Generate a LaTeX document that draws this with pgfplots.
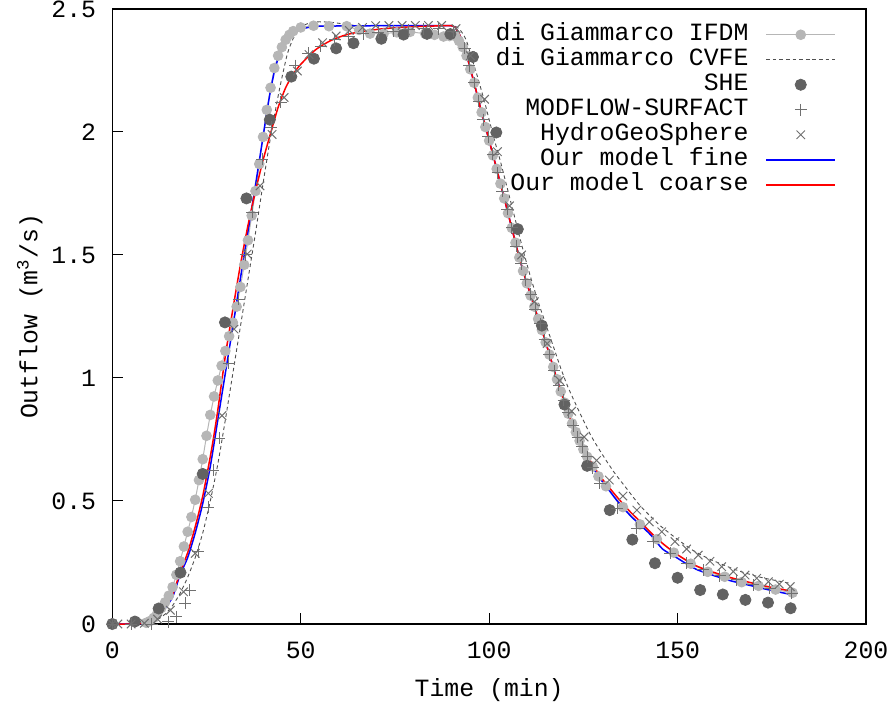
\documentclass[border=0pt]{standalone}
\usepackage{fontspec}
\setmainfont{Liberation Mono}
\usepackage{pgfplots}
\pgfplotsset{compat=1.18}
\definecolor{ifdm}{RGB}{182,182,182}
\definecolor{cvfe}{RGB}{80,80,80}
\definecolor{she}{RGB}{98,98,98}
\definecolor{mkgray}{RGB}{112,112,112}
\definecolor{fineblue}{RGB}{0,0,255}
\definecolor{coarsered}{RGB}{255,0,0}
\newcommand{\chartfont}{\fontsize{12.4bp}{14bp}\selectfont}
\begin{document}
\chartfont
\begin{tikzpicture}
\path[use as bounding box] (-56.15bp,-41bp) rectangle (388.35bp,312bp);
\begin{axis}[
  scale only axis,
  width=376.85bp, height=307.5bp,
  xmin=0, xmax=200, ymin=0, ymax=2.5,
  xtick={0,50,100,150,200},
  ytick={0,0.5,1,1.5,2,2.5},
  tick pos=left, tick align=inside,
  major tick length=5.5bp,
  tick style={black, line width=0.5bp},
  axis line style={black, line width=0.6bp},
  /pgf/number format/assume math mode=true,
  tick label style={font=\chartfont},
  xticklabel style={anchor=base, inner sep=0pt, yshift=-17bp},
  yticklabel style={anchor=east, inner sep=0pt, xshift=-7.9bp},
  xlabel={Time (min)},
  ylabel={Outflow (m\textsuperscript{3}/s)},
  label style={font=\chartfont},
  xlabel style={at={(axis description cs:0.5,-0.1171)}, anchor=base, inner sep=0pt},
  ylabel style={at={(axis description cs:-0.0995,0.5)}, anchor=base, rotate=0, inner sep=0pt},
  clip=false,
  legend cell align=right,
  legend plot pos=right,
  legend image code/.code={\draw[mark repeat=2,mark phase=2,#1] plot coordinates {(0bp,0bp) (17.25bp,0bp) (34.5bp,0bp)};},
  legend style={draw=none, fill=none, font=\chartfont,
    at={(axis description cs:0.9602,0.9760)}, anchor=north east,
    inner sep=0pt, outer sep=0pt, row sep=1.5bp, column sep=8.5bp,
    nodes={inner sep=0pt, text height=8.5bp, text depth=2.5bp}},
]
% di Giammarco IFDM
\addplot[color=ifdm, line width=0.5bp, mark=*, mark size=2.4bp, mark options={fill=ifdm, draw=ifdm}] coordinates {
(0,0)(9,0.005)(10,0.012)(11,0.025)(12,0.045)(13,0.065)(14,0.088)(15,0.115)(16,0.15)(17,0.2)(18,0.255)(19,0.315)(20,0.375)(21,0.435)(22,0.505)(23,0.585)(24,0.67)(25,0.765)(26,0.85)(27,0.925)(28,0.99)(29,1.05)(30,1.11)(31,1.17)(32,1.225)(33,1.29)(34,1.37)(35,1.46)(36,1.56)(37,1.66)(38,1.76)(39,1.87)(40,1.98)(41,2.09)(42,2.18)(43,2.26)(44,2.31)(45,2.345)(46,2.375)(47,2.395)(48,2.41)(50,2.425)(53.4,2.432)(57.5,2.43)(62.2,2.43)(65.5,2.415)(68.4,2.40)(72,2.40)(75.5,2.405)(79,2.407)(83,2.40)(85.5,2.395)(87.9,2.388)(89.5,2.39)(91,2.39)(92,2.37)(93,2.345)(94,2.31)(95,2.255)(96,2.20)(97,2.14)(98,2.08)(99,2.02)(100,1.965)(101,1.905)(102,1.85)(103,1.79)(104,1.73)(105,1.67)(106,1.61)(107,1.55)(108,1.49)(109,1.435)(110,1.385)(111,1.335)(112,1.29)(113,1.24)(114,1.195)(115,1.145)(116,1.095)(117,1.045)(118,0.995)(119,0.945)(120,0.90)(121,0.855)(122,0.815)(123,0.78)(124,0.745)(125,0.71)(126,0.68)(127.5,0.64)(129,0.60)(131,0.56)(135.5,0.475)(140,0.405)(144.5,0.345)(149,0.29)(153.5,0.245)(158,0.212)(162.5,0.192)(167,0.17)(171.5,0.155)(176,0.14)(180.5,0.127)
};
\addlegendentry{di Giammarco IFDM}
% di Giammarco CVFE
\addplot[color=cvfe, line width=0.45bp, dash pattern=on 1.8bp off 1.5bp, smooth, tension=0.4] coordinates {
(0,0)(8,0)(10,0.005)(12,0.018)(14,0.04)(16,0.075)(18,0.125)(20,0.19)(22,0.27)(24,0.37)(26,0.5)(28,0.65)(30,0.83)(32,1.02)(34,1.21)(36,1.40)(38,1.59)(40,1.79)(42,1.98)(43.8,2.13)(45,2.22)(46.5,2.32)(48,2.38)(49.5,2.415)(51,2.435)(53,2.446)(55,2.448)(58,2.446)(61,2.44)(64,2.434)(70,2.432)(80,2.432)(90,2.432)(91,2.43)(92,2.42)(93,2.40)(94,2.37)(95,2.32)(97,2.22)(99,2.11)(101,1.99)(103,1.88)(105,1.76)(107,1.64)(109,1.52)(111,1.41)(113,1.31)(115,1.22)(117,1.13)(119,1.04)(121,0.96)(124,0.86)(127,0.766)(130,0.69)(133,0.62)(136,0.56)(140,0.482)(145,0.405)(149.3,0.352)(154,0.3)(158.2,0.266)(163,0.235)(167,0.212)(172,0.19)(176,0.177)(180,0.165)
};
\addlegendentry{di Giammarco CVFE}
% SHE
\addplot[only marks, mark=*, mark size=2.8bp, color=she, mark options={fill=she, draw=she}] coordinates {
(0,0)(6,0.01)(12.3,0.063)(18.1,0.209)(24,0.61)(29.9,1.226)(35.6,1.73)(41.8,2.05)(47.5,2.225)(53.5,2.298)(59.4,2.34)(64,2.361)(71.4,2.379)(77.3,2.396)(83.5,2.399)(89.7,2.398)(95.7,2.305)(101.9,1.998)(107.6,1.605)(114,1.213)(120,0.892)(126,0.643)(132,0.463)(138,0.343)(144,0.247)(150,0.188)(156,0.138)(162,0.12)(168,0.098)(174,0.087)(180,0.064)
};
\addlegendentry{SHE}
% MODFLOW-SURFACT
\addplot[only marks, mark=+, mark size=3bp, color=mkgray, line width=0.5bp] coordinates {
(0,0)(5,0)(10.5,0)(14.9,0.01)(17,0.03)(19.3,0.084)(20.6,0.138)(22.8,0.294)(25.5,0.474)(26.8,0.626)(28.4,0.755)(30.9,1.06)(33.6,1.321)(35.4,1.50)(37.1,1.673)(39.8,1.889)(42.2,2.02)(44.7,2.12)(48.5,2.27)(52,2.32)(55.3,2.349)(59,2.375)(62.7,2.39)(66.6,2.40)(70.6,2.405)(74.6,2.41)(78.6,2.415)(82.6,2.42)(86.6,2.42)(90.5,2.41)(93.5,2.34)(94.75,2.27)(96,2.20)(97.25,2.125)(98.5,2.05)(99.75,1.98)(101,1.91)(102.25,1.835)(103.5,1.76)(104.75,1.685)(106,1.61)(107.25,1.535)(108.5,1.465)(109.75,1.40)(111,1.34)(112.25,1.28)(113.5,1.22)(114.75,1.155)(116,1.095)(117.25,1.03)(118.5,0.97)(119.75,0.91)(121,0.86)(122.25,0.805)(123.5,0.76)(124.75,0.72)(126,0.68)(127.5,0.635)(129.4,0.572)(134,0.47)(139.2,0.389)(143.6,0.335)(148,0.287)(152.4,0.247)(156.8,0.22)(161.2,0.197)(165.7,0.179)(170.1,0.159)(174.5,0.145)(180.3,0.125)
};
\addlegendentry{MODFLOW-SURFACT}
% HydroGeoSphere
\addplot[only marks, mark=x, mark size=3bp, color=mkgray, line width=0.5bp] coordinates {
(0,0)(1.5,0)(5,0)(8.5,0.003)(12,0.02)(15.4,0.056)(18.9,0.131)(22,0.287)(25.5,0.531)(29.1,0.847)(32.3,1.199)(35.8,1.504)(39.2,1.781)(42.4,1.99)(45.6,2.14)(49.1,2.248)(52.2,2.315)(55.8,2.363)(59.4,2.39)(62.9,2.413)(66.4,2.425)(69.9,2.432)(73.4,2.433)(76.9,2.433)(80.4,2.433)(83.9,2.433)(87.4,2.433)(91.2,2.42)(95,2.31)(98.8,2.133)(102.2,1.92)(105.4,1.70)(108.6,1.50)(112,1.31)(115.4,1.14)(118.7,0.99)(121.9,0.865)(125.2,0.76)(128.5,0.665)(131.9,0.585)(135.5,0.52)(139.2,0.463)(142.5,0.415)(145.8,0.375)(149.3,0.335)(152.4,0.305)(155.5,0.28)(158.6,0.255)(161.7,0.233)(164.8,0.213)(167.9,0.199)(171,0.186)(174.1,0.172)(177,0.162)(179.9,0.152)
};
\addlegendentry{HydroGeoSphere}
% Our model fine
\addplot[color=fineblue, line width=0.75bp, smooth, tension=0.4] coordinates {
(0,0)(6,0)(8,0.003)(10,0.015)(12,0.035)(14,0.065)(16,0.11)(18,0.2)(20,0.27)(22,0.37)(24,0.49)(26,0.64)(28,0.83)(30,1.02)(32,1.21)(34,1.405)(36,1.595)(38,1.785)(40,1.98)(41,2.08)(42,2.17)(43,2.245)(44,2.3)(45,2.34)(46,2.37)(47,2.39)(48,2.405)(50,2.418)(52,2.425)(55,2.43)(70,2.432)(88,2.432)(90,2.432)(91,2.425)(92,2.40)(93,2.365)(94,2.315)(96,2.20)(98,2.08)(100,1.965)(102,1.85)(104,1.73)(106,1.61)(108,1.49)(110,1.385)(112,1.29)(114,1.195)(116,1.095)(118,0.995)(120,0.90)(122,0.815)(124,0.745)(126,0.68)(128,0.625)(130,0.58)(132,0.54)(134,0.50)(136,0.465)(138,0.432)(140,0.405)(143,0.36)(146,0.305)(149,0.277)(152,0.248)(155,0.222)(158,0.205)(161,0.19)(164,0.176)(167,0.165)(170,0.154)(173,0.143)(176,0.133)(180,0.12)
};
\addlegendentry{Our model fine}
% Our model coarse
\addplot[color=coarsered, line width=0.75bp, smooth, tension=0.4] coordinates {
(0,0)(6,0)(8,0.004)(10,0.018)(12,0.04)(14,0.072)(16,0.12)(18,0.21)(20,0.29)(22,0.395)(24,0.52)(26,0.68)(27,0.77)(28,0.87)(30,1.09)(32,1.28)(34,1.46)(36,1.62)(38,1.76)(40,1.885)(42,1.995)(44,2.1)(46,2.18)(48,2.235)(50,2.275)(54,2.335)(58,2.372)(62,2.395)(66,2.408)(72,2.42)(80,2.428)(88,2.432)(90,2.432)(91,2.425)(92,2.40)(93,2.365)(94,2.315)(96,2.20)(98,2.08)(100,1.965)(102,1.85)(104,1.73)(106,1.61)(108,1.49)(110,1.385)(112,1.29)(114,1.195)(116,1.095)(118,0.995)(120,0.90)(122,0.815)(124,0.745)(126,0.685)(128,0.635)(130,0.59)(132,0.552)(134,0.515)(136,0.48)(138,0.447)(140,0.418)(143,0.37)(146,0.328)(149,0.292)(152,0.262)(155,0.236)(158,0.218)(161,0.203)(164,0.189)(167,0.177)(170,0.166)(173,0.155)(176,0.146)(180,0.134)
};
\addlegendentry{Our model coarse}
\end{axis}
\end{tikzpicture}
\end{document}
